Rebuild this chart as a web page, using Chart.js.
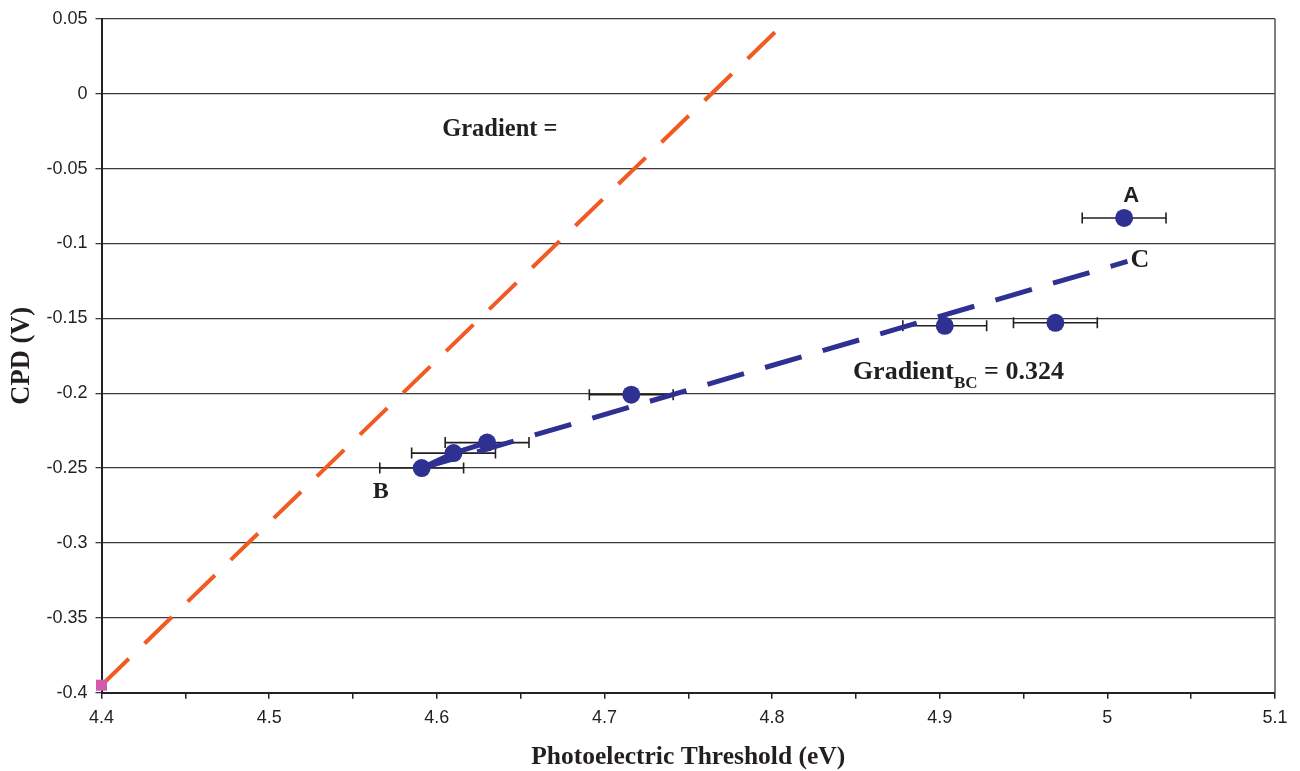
<!DOCTYPE html>
<html>
<head>
<meta charset="utf-8">
<script src="https://cdn.jsdelivr.net/npm/chart.js@4.4.1/dist/chart.umd.min.js"></script>
<style>
html,body{margin:0;padding:0;background:#fff;}
canvas{display:block;}
</style>
</head>
<body>
<canvas id="c" width="1300" height="771"></canvas>
<script>
// ---- data ----
const xVals = [4.591, 4.610, 4.630, 4.716, 4.903, 4.969, 5.010];
const yVals = [-0.250, -0.240, -0.233, -0.201, -0.155, -0.153, -0.083];
const xErr  = [0.025, 0.025, 0.025, 0.025, 0.025, 0.025, 0.025];

const fitBCx = [4.591, 5.012];
const fitBCy = [-0.250, -0.112];

const refX = [4.400, 4.810];
const refY = [-0.395, 0.050];

const originX = [4.400];
const originY = [-0.395];

const xTicks = {min: 4.4, max: 5.1, step: 0.05};
const yTicks = {min: -0.4, max: 0.05, step: 0.05};

const xTitle = 'Photoelectric Threshold (eV)';
const yTitle = 'CPD (V)';
const gradLabel = 'Gradient =';
const gradLabelAt = [4.6032, -0.0282];
const gradBCLabel = ['Gradient', 'BC', ' = 0.324'];
const gradBCLabelAt = [4.8482, -0.1902];

// ---- helpers ----
const pts = (xs, ys) => xs.map((x, i) => ({x, y: ys[i]}));
const fmt = v => String(Number(v.toFixed(2)));
const TXT = '#231F20';
const BLUE = '#2E3192';
const ORANGE = '#F15A22';
const SERIF = '"Liberation Serif", "Times New Roman", serif';
const SANS = '"Liberation Sans", Arial, sans-serif';

const errorBars = {
  id: 'errorBars',
  beforeDatasetsDraw(chart) {
    const {ctx, scales: {x, y}, chartArea} = chart;
    ctx.save();
    ctx.beginPath();
    ctx.rect(chartArea.left, chartArea.top, chartArea.right - chartArea.left, chartArea.bottom - chartArea.top);
    ctx.clip();
    ctx.strokeStyle = TXT;
    ctx.lineWidth = 1.6;
    xVals.forEach((xv, i) => {
      const py = y.getPixelForValue(yVals[i]);
      const x1 = x.getPixelForValue(xv - xErr[i]);
      const x2 = x.getPixelForValue(xv + xErr[i]);
      ctx.beginPath();
      ctx.moveTo(x1, py); ctx.lineTo(x2, py);
      ctx.moveTo(x1, py - 5.5); ctx.lineTo(x1, py + 5.5);
      ctx.moveTo(x2, py - 5.5); ctx.lineTo(x2, py + 5.5);
      ctx.stroke();
    });
    ctx.restore();
  }
};

const frame = {
  id: 'frame',
  beforeDatasetsDraw(chart) {
    const {ctx, chartArea} = chart;
    ctx.save();
    ctx.strokeStyle = '#555';
    ctx.lineWidth = 1.5;
    ctx.beginPath();
    ctx.moveTo(chartArea.right, chartArea.top);
    ctx.lineTo(chartArea.right, chartArea.bottom);
    ctx.stroke();
    ctx.restore();
  }
};

const labels = {
  id: 'labels',
  afterDatasetsDraw(chart) {
    const {ctx, scales: {x, y}} = chart;
    ctx.save();
    ctx.fillStyle = TXT;
    ctx.textBaseline = 'alphabetic';

    // A
    const n = xVals.length - 1;
    ctx.font = 'bold 22px ' + SANS;
    ctx.textAlign = 'center';
    ctx.fillText('A', x.getPixelForValue(xVals[n]) + 7, y.getPixelForValue(yVals[n]) - 16);

    // B
    ctx.font = 'bold 24px ' + SERIF;
    ctx.fillText('B', x.getPixelForValue(xVals[0] - xErr[0]) + 1, y.getPixelForValue(yVals[0]) + 30);

    // C
    ctx.font = 'bold 26px ' + SERIF;
    ctx.textAlign = 'left';
    ctx.fillText('C', x.getPixelForValue(fitBCx[1]) + 3, y.getPixelForValue(fitBCy[1]) + 6);

    // Gradient =
    ctx.font = 'bold 24.5px ' + SERIF;
    ctx.fillText(gradLabel, x.getPixelForValue(gradLabelAt[0]), y.getPixelForValue(gradLabelAt[1]));

    // Gradient_BC = 0.324
    let px = x.getPixelForValue(gradBCLabelAt[0]);
    const py = y.getPixelForValue(gradBCLabelAt[1]);
    ctx.font = 'bold 26px ' + SERIF;
    ctx.fillText(gradBCLabel[0], px, py);
    px += ctx.measureText(gradBCLabel[0]).width;
    ctx.font = 'bold 17px ' + SERIF;
    ctx.fillText(gradBCLabel[1], px, py + 9);
    px += ctx.measureText(gradBCLabel[1]).width;
    ctx.font = 'bold 26px ' + SERIF;
    ctx.fillText(gradBCLabel[2], px, py);
    ctx.restore();
  }
};

new Chart(document.getElementById('c'), {
  type: 'scatter',
  data: {
    datasets: [
      {
        label: 'data', data: pts(xVals, yVals), showLine: false,
        pointRadius: 9, pointHoverRadius: 9, backgroundColor: BLUE, borderWidth: 0, order: 1
      },
      {
        label: 'BC start', data: pts(xVals.slice(0, 3), yVals.slice(0, 3)), showLine: true,
        borderColor: BLUE, borderWidth: 5, pointRadius: 0, order: 3
      },
      {
        label: 'BC fit', data: pts(fitBCx, fitBCy), showLine: true,
        borderColor: BLUE, borderWidth: 5, borderDash: [38, 22], borderDashOffset: 2.2,
        borderCapStyle: 'butt', pointRadius: 0, order: 2
      },
      {
        label: 'reference', data: pts(refX, refY), showLine: true,
        borderColor: ORANGE, borderWidth: 4, borderDash: [38, 22], borderDashOffset: 0,
        borderCapStyle: 'butt', pointRadius: 0, order: 4
      },
      {
        label: 'origin', data: pts(originX, originY), showLine: false,
        pointStyle: 'rect', pointRadius: 7.8, backgroundColor: '#D35AAE', borderWidth: 0,
        clip: false, order: 0
      }
    ]
  },
  options: {
    responsive: false,
    devicePixelRatio: 1,
    animation: false,
    events: [],
    layout: {padding: {left: 0, right: 25, top: 18.7, bottom: 0}},
    plugins: {legend: {display: false}, tooltip: {enabled: false}},
    scales: {
      x: {
        type: 'linear', position: 'bottom',
        min: xTicks.min, max: xTicks.max,
        afterFit: s => { s.height = 78.3; },
        ticks: {
          stepSize: xTicks.step, autoSkip: false, maxRotation: 0, padding: 9,
          color: TXT, font: {family: SANS, size: 18},
          callback: v => (Math.round(v * 100) % 10 === 0 ? fmt(v) : '')
        },
        grid: {drawOnChartArea: false, drawTicks: true, tickLength: 6, color: '#222', lineWidth: 1.5},
        border: {display: true, color: '#222', width: 2},
        title: {display: true, text: xTitle, color: TXT,
                font: {family: SERIF, size: 25.5, weight: 'bold', lineHeight: 1},
                padding: {top: 0, bottom: 1.2}}
      },
      y: {
        type: 'linear', position: 'left',
        min: yTicks.min, max: yTicks.max,
        afterFit: s => { s.width = 101.5; },
        ticks: {
          stepSize: yTicks.step, autoSkip: false, padding: 8,
          color: TXT, font: {family: SANS, size: 18},
          callback: v => fmt(v)
        },
        grid: {drawOnChartArea: true, drawTicks: true, tickLength: 6, color: '#3a3a3a', lineWidth: 1.3},
        border: {display: true, color: '#222', width: 2},
        title: {display: true, text: yTitle, color: TXT,
                font: {family: SERIF, size: 26.5, weight: 'bold', lineHeight: 1},
                padding: {top: 9.2, bottom: 0}}
      }
    }
  },
  plugins: [frame, errorBars, labels]
});
</script>
</body>
</html>
